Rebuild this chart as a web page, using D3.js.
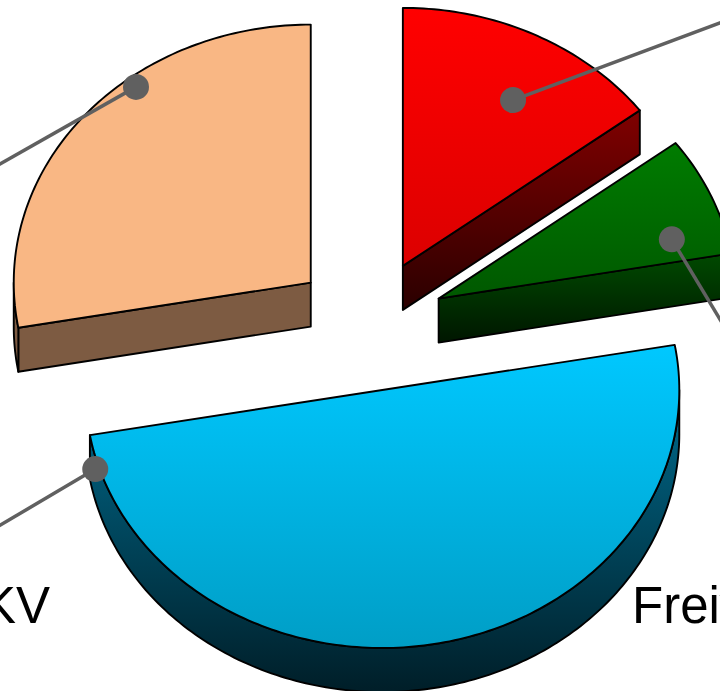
<!DOCTYPE html>
<html>
<head>
<meta charset="utf-8">
<script src="https://cdn.jsdelivr.net/npm/d3@7"></script>
<style>
  html, body { margin: 0; padding: 0; background: #ffffff; overflow: hidden; }
  svg { display: block; }
</style>
</head>
<body>
<svg id="chart" width="720" height="691"></svg>
<script>
// Slice data, clockwise from 12 o'clock
const categories = ["Privat", "Freiwillig", "GKV", "Pflicht"];
const values = [14.7, 7.5, 50, 27.8];
const labelTexts = ["", "Freiwillig", "GKV", ""];

// Face colours: [top face top, top face bottom], [side top, side bottom]
const topFills = [["#ff0000", "#dc0000"], ["#007c00", "#005800"], ["#00c8ff", "#009ec6"], ["#f9b784", "#f9b784"]];
const sideFills = [["#800000", "#2a0000"], ["#004a00", "#001600"], ["#006a8c", "#001e28"], ["#7d5b42", "#7d5b42"]];

// Projection of the tilted pie
const W = 720, H = 691;
const cx = 369, cy = 325, rx = 297, ry = 258, depth = 44, explode = 76;

// Leader anchors (pie angle in degrees, radius fraction) and leader direction
const leaders = [
  { i: 0, a: 30, r: 0.742, dir: [209, -78] },
  { i: 1, a: 73.7, r: 0.818, dir: [50, 83] },
  { i: 2, a: 252.4, r: 1.014, dir: [-95, 56] },
  { i: 3, a: 322.2, r: 0.96, dir: [-136, 77] }
];
// Label placement (text anchor point and alignment)
const labelSpots = [
  { i: 2, x: 50, y: 623, anchor: "end" },
  { i: 1, x: 632, y: 623, anchor: "start" }
];

const svg = d3.select("#chart");
const defs = svg.append("defs");

function grad(id, c) {
  const g = defs.append("linearGradient").attr("id", id)
    .attr("x1", 0).attr("y1", 0).attr("x2", 0).attr("y2", 1);
  g.append("stop").attr("offset", 0).attr("stop-color", c[0]);
  g.append("stop").attr("offset", 1).attr("stop-color", c[1]);
}
topFills.forEach((c, i) => grad("top" + i, c));
sideFills.forEach((c, i) => grad("side" + i, c));

const arcs = d3.pie().sort(null).value(d => d)(values);

const ang = d3.scaleLinear().domain([0, 360]).range([0, 2 * Math.PI]);
const pt = (c, a, r = 1, z = 0) => [c[0] + Math.sin(a) * rx * r, c[1] - Math.cos(a) * ry * r + z];
const arcPts = (c, a0, a1, z = 0) => {
  const n = Math.max(2, Math.ceil(Math.abs(a1 - a0) / ang(1)));
  return d3.range(n + 1).map(k => pt(c, a0 + (a1 - a0) * k / n, 1, z));
};
const poly = pts => "M" + pts.map(p => p[0].toFixed(2) + "," + p[1].toFixed(2)).join("L") + "Z";

const eps = 1e-6;
const centers = arcs.map(d => {
  const mid = (d.startAngle + d.endAngle) / 2;
  return [cx + explode * Math.sin(mid), cy - explode * (ry / rx) * Math.cos(mid)];
});

// Back slices first, the front (lower) slice last
const order = [3, 0, 1, 2];
const stroke = { stroke: "#000", "stroke-width": 1.9, "stroke-linejoin": "round" };

order.forEach(i => {
  const d = arcs[i], c = centers[i];
  const a0 = d.startAngle, a1 = d.endAngle;
  const g = svg.append("g");
  const apply = sel => { Object.entries(stroke).forEach(([k, v]) => sel.attr(k, v)); return sel; };

  // radial wall at the start edge
  if (Math.sin(a0) < -eps) {
    const e = pt(c, a0);
    apply(g.append("path").attr("d", poly([c, e, [e[0], e[1] + depth], [c[0], c[1] + depth]]))
      .attr("fill", `url(#side${i})`));
  }
  // radial wall at the end edge
  if (Math.sin(a1) > eps) {
    const e = pt(c, a1);
    apply(g.append("path").attr("d", poly([c, e, [e[0], e[1] + depth], [c[0], c[1] + depth]]))
      .attr("fill", `url(#side${i})`));
  }
  // outer rim, the front-facing part only
  const lo = Math.max(a0, Math.PI / 2), hi = Math.min(a1, 3 * Math.PI / 2);
  if (hi > lo) {
    const top = arcPts(c, lo, hi);
    const bot = arcPts(c, lo, hi, depth).reverse();
    apply(g.append("path").attr("d", poly(top.concat(bot))).attr("fill", `url(#side${i})`));
  }
  // top face
  apply(g.append("path").attr("d", poly([c].concat(arcPts(c, a0, a1))))
    .attr("fill", `url(#top${i})`));
});

// Leader lines with anchor dots
const lg = svg.append("g");
leaders.forEach(l => {
  const p = pt(centers[l.i], ang(l.a), l.r);
  const len = 4;
  lg.append("line")
    .attr("x1", p[0]).attr("y1", p[1])
    .attr("x2", p[0] + l.dir[0] * len).attr("y2", p[1] + l.dir[1] * len)
    .attr("stroke", "#606060").attr("stroke-width", 3.5);
  lg.append("circle").attr("cx", p[0]).attr("cy", p[1]).attr("r", 13).attr("fill", "#606060");
});

// Category labels
svg.append("g").selectAll("text").data(labelSpots).join("text")
  .attr("x", d => d.x).attr("y", d => d.y)
  .attr("text-anchor", d => d.anchor)
  .attr("font-family", "'Liberation Sans', Arial, sans-serif")
  .attr("font-size", 51)
  .attr("fill", "#000")
  .text(d => labelTexts[d.i]);
</script>
</body>
</html>
